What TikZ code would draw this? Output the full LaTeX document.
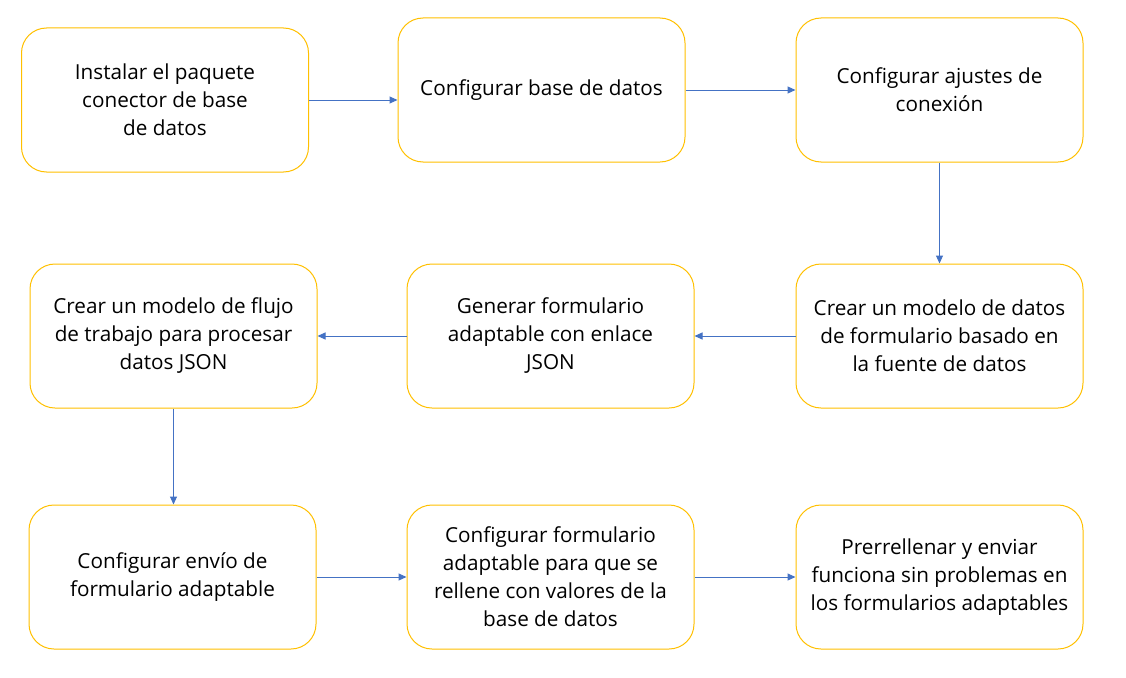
\documentclass[tikz,border=0pt]{standalone}
\usepackage{fontspec}
\setmainfont{Open Sans}
\usetikzlibrary{arrows.meta}
\definecolor{boxy}{HTML}{FFC000}
\definecolor{arrb}{HTML}{4472C4}
\begin{document}
\begin{tikzpicture}[x=1pt,y=-1pt,
  box/.style={draw=boxy,line width=1pt,rounded corners=25pt,fill=white,
    minimum width=287pt,minimum height=144pt,align=center,inner sep=0pt,
    font=\fontsize{20.7}{28}\selectfont},
  conn/.style={draw=arrb,line width=1pt,-{Triangle[length=8pt,width=7pt]}}]
\useasboundingbox (0,0) rectangle (1126,677);
\node[box] (b1) at (165,100) {Instalar el paquete\\conector de base\\de datos};
\node[box] (b2) at (541.5,90) {Configurar base de datos};
\node[box] (b3) at (939.5,90) {Configurar ajustes de\\conexión};
\node[box] (b4) at (173.5,336) {Crear un modelo de flujo\\de trabajo para procesar\\datos JSON};
\node[box] (b5) at (550.5,336) {Generar formulario\\adaptable con enlace\\JSON};
\node[box] (b6) at (939.5,336) {Crear un modelo de datos\\de formulario basado en\\la fuente de datos};
\node[box] (b7) at (172.5,577) {Configurar envío de\\formulario adaptable};
\node[box] (b8) at (550.5,577) {Configurar formulario\\adaptable para que se\\rellene con valores de la\\base de datos};
\node[box] (b9) at (939.5,577) {Prerrellenar y enviar\\funciona sin problemas en\\los formularios adaptables};
\draw[conn] (b1.east) -- (b1.east -| b2.west);
\draw[conn] (b2.east) -- (b3.west);
\draw[conn] (b3.south) -- (b6.north);
\draw[conn] (b6.west) -- (b5.east);
\draw[conn] (b5.west) -- (b4.east);
\draw[conn] (b4.south) -- (b4.south |- b7.north);
\draw[conn] (b7.east) -- (b7.east -| b8.west);
\draw[conn] (b8.east) -- (b9.west);
\end{tikzpicture}
\end{document}
